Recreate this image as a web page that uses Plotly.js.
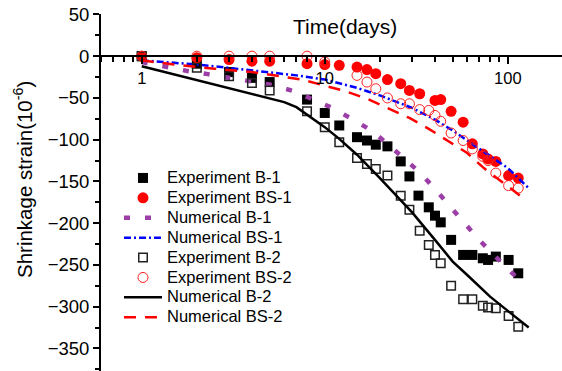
<!DOCTYPE html>
<html>
<head>
<meta charset="utf-8">
<script src="https://cdn.plot.ly/plotly-3.0.1.min.js"></script>
<style>html,body{margin:0;padding:0;background:#fff;}#chart{width:562px;height:371px;}</style>
</head>
<body>
<div id="chart"></div>
<script>
// ---- data (days, strain x1e-6) ----
var expB1_t  = [1,2,3,4,5,8,10,12,15,17,19,22,26,29,32.5,37,40,43,49,57,64,73,78,86,101,114];
var expB1_v  = [0,-9,-19,-26,-31,-52,-68,-83,-97,-101,-106,-108,-126,-144,-167,-181,-191,-199,-220,-238,-238,-242,-244,-240,-244,-260];

var expBS1_t = [1,2,3,4,5,8,10,12,15,17,19,22,26,29,33,40,43,49,57,64,73,78,86,101,114];
var expBS1_v = [0,-2,-4,-6,-6,-9,-10,-11,-13,-16,-21,-28,-33,-41,-45,-53,-52,-66,-79,-105,-117,-123,-126,-143,-146];

var numB1_t  = [1,1.35,1.75,2.3,3,4,5,6.7,8.7,11,14,18,22,27,33,40,48,58,69,84,101,126];
var numB1_v  = [-7,-13,-17.5,-21.5,-25.5,-30,-34,-41.5,-52,-62,-75,-89,-105,-122,-139,-159,-179,-199,-219,-238,-256,-275];

var numBS1_t = [1,2,3,5,7,10,15,20,30,40,50,70,100,130];
var numBS1_v = [-5,-10,-14,-19,-23,-28,-38,-47,-62,-76,-89,-111,-134,-158];

var expB2_t  = [1,2,3,4,5,8,10,12,15,17,19,22,26,29,33,37,40,43,49,57,64,73,78,86,101,114];
var expB2_v  = [0,-14,-24,-32,-41,-66,-85,-103,-122,-129,-135,-143,-167,-184,-209,-226,-238,-248,-275,-291,-291,-299,-301,-302,-311,-324];

var expBS2_t = [1,2,3,4,5,8,10,15,17,19,22,26,29,33,37,40,43,49,57,64,73,78,86,101,114];
var expBS2_v = [0,0,0,0,0,0,-7,-23,-31,-39,-50,-57,-57,-64,-65,-71,-78,-92,-101,-111,-120,-125,-140,-155,-158];

var numB2_t  = [1,6,7,8,10,12,15,20,25,30,40,50,60,80,100,130];
var numB2_v  = [-12,-55,-61,-70,-85,-99,-118,-146,-168,-187,-220,-246,-262,-288,-305,-325];

var numBS2_t = [1,1.5,2.5,4,7.5,10,13,17,22,29,37,46,60,74,92,125];
var numBS2_v = [-5,-10,-15,-19,-28,-35,-42,-51,-62,-74,-87,-100,-116,-134,-150,-172];

var names = ['Experiment B-1','Experiment BS-1','Numerical B-1','Numerical BS-1',
             'Experiment B-2','Experiment BS-2','Numerical B-2','Numerical BS-2'];
var xTicks = [1,10,100];
var xMinor = [0.6,0.7,0.8,0.9,2,3,4,5,6,7,8,9,20,30,40,50,60,70,80,90,200];

// ---- layout constants ----
var W = 562, H = 371, ML = 100, MR = 0, MT = 14, MB = 0;
var yRange = [-377, 50.5];
var xRange = [-0.228, 2.296];
var PW = W - ML - MR, PH = H - MT - MB;
function px2paperX(p){ return (p - ML) / PW; }
function px2paperY(p){ return 1 - (p - MT) / PH; }

var FONT = 'Liberation Sans, Arial, sans-serif';
var purple = '#9b3fa6';
function nm(s){ return '<span style="font-size:16.5px">' + s + '</span>'; }

var traces = [
  {x: expB1_t, y: expB1_v, name: nm(names[0]), mode: 'markers', type: 'scatter',
   marker: {symbol: 'square', size: 10, color: '#000'}},
  {x: expBS1_t, y: expBS1_v, name: nm(names[1]), mode: 'markers', type: 'scatter',
   marker: {symbol: 'circle', size: 11, color: '#ff0000'}},
  {x: numB1_t, y: numB1_v, name: nm(names[2]), mode: 'lines', type: 'scatter',
   line: {color: purple, width: 4.5, dash: '6px,15px'}},
  {x: numBS1_t, y: numBS1_v, name: nm(names[3]), mode: 'lines', type: 'scatter',
   line: {color: '#0000ff', width: 2.5, dash: '7px,3px,2px,3px'}},
  {x: expB2_t, y: expB2_v, name: nm(names[4]), mode: 'markers', type: 'scatter',
   marker: {symbol: 'square-open', size: 8.5, color: '#222', line: {width: 1.5}}},
  {x: expBS2_t, y: expBS2_v, name: nm(names[5]), mode: 'markers', type: 'scatter',
   marker: {symbol: 'circle-open', size: 10, color: '#ff2020', line: {width: 1}}},
  {x: numB2_t, y: numB2_v, name: nm(names[6]), mode: 'lines', type: 'scatter',
   line: {color: '#000', width: 2.5}},
  {x: numBS2_t, y: numBS2_v, name: nm(names[7]), mode: 'lines', type: 'scatter',
   line: {color: '#ff0000', width: 2.5, dash: '12px,9px'}}
];

var layout = {
  width: W, height: H,
  margin: {l: ML, r: MR, t: MT, b: MB, pad: 0},
  paper_bgcolor: '#fff', plot_bgcolor: '#fff',
  font: {family: FONT, color: '#000'},
  showlegend: true,
  legend: {
    x: px2paperX(119), y: px2paperY(163), xanchor: 'left', yanchor: 'top',
    bgcolor: 'rgba(0,0,0,0)', borderwidth: 0,
    font: {family: FONT, size: 13, color: '#000'},
    itemwidth: 38, tracegroupgap: 0
  },
  xaxis: {
    type: 'log', range: xRange, anchor: 'free',
    position: (0 - yRange[0]) / (yRange[1] - yRange[0]),
    side: 'bottom',
    showline: true, linecolor: '#000', linewidth: 2,
    showgrid: false, zeroline: false,
    tickmode: 'array', tickvals: xTicks, ticktext: xTicks.map(String),
    ticks: 'outside', ticklen: 7, tickwidth: 2, tickcolor: '#000',
    tickfont: {family: FONT, size: 16.5, color: '#000'},
    minor: {tickmode: 'array', tickvals: xMinor, ticks: 'outside', ticklen: 5, tickwidth: 2, tickcolor: '#000', showgrid: false}
  },
  yaxis: {
    range: yRange, anchor: 'free', position: 0,
    showline: true, linecolor: '#000', linewidth: 2,
    showgrid: false, zeroline: false,
    tickmode: 'linear', tick0: 0, dtick: 50,
    ticks: 'outside', ticklen: 6, tickwidth: 2, tickcolor: '#000',
    tickfont: {family: FONT, size: 18.5, color: '#000'},
    minor: {dtick: 25, tick0: 0, ticks: 'outside', ticklen: 4, tickwidth: 2, tickcolor: '#000', showgrid: false}
  },
  annotations: [
    {text: 'Time(days)', xref: 'paper', yref: 'paper', x: px2paperX(345), y: px2paperY(27),
     xanchor: 'center', yanchor: 'middle', showarrow: false,
     font: {family: FONT, size: 21, color: '#000'}},
    {text: 'Shrinkage strain(10<sup>-6</sup>)', xref: 'paper', yref: 'paper',
     x: px2paperX(23), y: px2paperY(180), xanchor: 'center', yanchor: 'middle',
     textangle: -90, showarrow: false,
     font: {family: FONT, size: 20.5, color: '#000'}}
  ]
};

Plotly.newPlot('chart', traces, layout, {displayModeBar: false, staticPlot: true});
</script>
</body>
</html>
